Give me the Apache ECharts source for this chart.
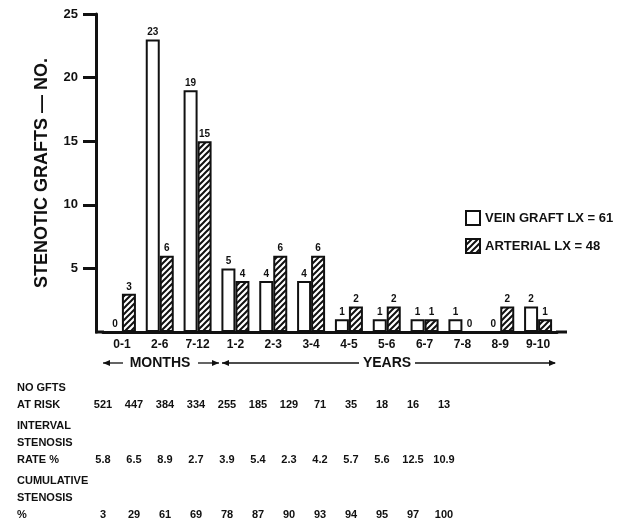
<!DOCTYPE html>
<html>
<head>
<meta charset="utf-8">
<script src="https://cdn.jsdelivr.net/npm/echarts@6/dist/echarts.min.js"></script>
<style>
  html, body { margin: 0; padding: 0; background: #fff; }
  #chart { width: 634px; height: 525px; }
</style>
</head>
<body>
<div id="chart"></div>
<script>
// interval categories (months then years)
const categories = ["0-1", "2-6", "7-12", "1-2", "2-3", "3-4", "4-5", "5-6", "6-7", "7-8", "8-9", "9-10"];
const veinGraft = [0, 23, 19, 5, 4, 4, 1, 1, 1, 1, 0, 2];
const arterial = [3, 6, 15, 4, 6, 6, 2, 2, 1, 0, 2, 1];
// table under the chart
const atRisk = ["521", "447", "384", "334", "255", "185", "129", "71", "35", "18", "16", "13"];
const intervalRate = ["5.8", "6.5", "8.9", "2.7", "3.9", "5.4", "2.3", "4.2", "5.7", "5.6", "12.5", "10.9"];
const cumulative = ["3", "29", "61", "69", "78", "87", "90", "93", "94", "95", "97", "100"];

const ink = "#111";
const FONT = "Liberation Sans, Arial, sans-serif";

// hatch pattern for arterial bars
function hatch() {
  const c = document.createElement("canvas");
  c.width = 6;
  c.height = 6;
  const g = c.getContext("2d");
  g.fillStyle = "#fff";
  g.fillRect(0, 0, 6, 6);
  g.strokeStyle = ink;
  g.lineWidth = 2;
  g.beginPath();
  g.moveTo(-1, 7); g.lineTo(7, -1);
  g.moveTo(-1, 1); g.lineTo(1, -1);
  g.moveTo(5, 7); g.lineTo(7, 5);
  g.stroke();
  return { image: c, repeat: "repeat" };
}

const chart = echarts.init(document.getElementById("chart"));

// table text
const tableEls = [];
function rowLabel(lines, yLast) {
  lines.forEach((t, i) => {
    tableEls.push({
      type: "text", x: 17, y: yLast - (lines.length - 1 - i) * 17,
      style: { text: t, fill: ink, font: "bold 11px " + FONT, verticalAlign: "middle" }
    });
  });
}
function rowValues(vals, y) {
  vals.forEach((v, i) => {
    tableEls.push({
      type: "text", x: 103 + i * 31, y: y,
      style: { text: v, fill: ink, font: "bold 11px " + FONT, align: "center", verticalAlign: "middle" }
    });
  });
}
rowLabel(["NO GFTS", "AT RISK"], 405);
rowValues(atRisk, 405);
rowLabel(["INTERVAL", "STENOSIS", "RATE %"], 460);
rowValues(intervalRate, 460);
rowLabel(["CUMULATIVE", "STENOSIS", "%"], 515);
rowValues(cumulative, 515);

// months / years arrows
const ay = 363;
function arrowHead(x, dir) {
  return {
    type: "polygon",
    shape: { points: [[x, ay], [x - dir * 7, ay - 3], [x - dir * 7, ay + 3]] },
    style: { fill: ink }
  };
}
function hLine(x1, x2, y, w) {
  return { type: "line", shape: { x1: x1, y1: y, x2: x2, y2: y }, style: { stroke: ink, lineWidth: w } };
}
const arrowEls = [
  arrowHead(103, -1), hLine(103, 123, ay, 1.3),
  { type: "text", x: 160, y: ay, style: { text: "MONTHS", fill: ink, font: "bold 14px " + FONT, align: "center", verticalAlign: "middle" } },
  hLine(198, 219, ay, 1.3), arrowHead(219, 1),
  arrowHead(222, -1), hLine(222, 359, ay, 1.3),
  { type: "text", x: 387, y: ay, style: { text: "YEARS", fill: ink, font: "bold 14px " + FONT, align: "center", verticalAlign: "middle" } },
  hLine(415, 555, ay, 1.3), arrowHead(556, 1),
  // baseline continues to the y axis and a little past the last bar
  hLine(95, 104, 332, 3), hLine(556, 567, 332, 3)
];

const labelStyle = { show: true, position: "top", distance: 2, color: ink, fontSize: 10, fontWeight: "bold", fontFamily: FONT };

chart.setOption({
  animation: false,
  textStyle: { fontFamily: FONT },
  grid: { left: 103, top: 14, width: 454, height: 318 },
  legend: {
    orient: "vertical",
    left: 460,
    top: 205,
    icon: "rect",
    itemWidth: 14,
    itemHeight: 14,
    itemGap: 12,
    textStyle: { color: ink, fontSize: 13, fontWeight: "bold", fontFamily: FONT },
    data: ["VEIN GRAFT LX = 61", "ARTERIAL LX = 48"]
  },
  xAxis: {
    type: "category",
    data: categories,
    axisLine: { lineStyle: { color: ink, width: 3 } },
    axisTick: { show: false },
    axisLabel: { color: ink, fontSize: 12, fontWeight: "bold", margin: 7, interval: 0 }
  },
  yAxis: {
    type: "value",
    min: 0,
    max: 25,
    interval: 5,
    offset: 7,
    name: "STENOTIC GRAFTS — NO.",
    nameLocation: "middle",
    nameGap: 45,
    nameTextStyle: { color: ink, fontSize: 18, fontWeight: "bold" },
    axisLine: { show: true, lineStyle: { color: ink, width: 3 } },
    axisTick: { show: true, length: 13, lineStyle: { color: ink, width: 3 } },
    axisLabel: { color: ink, fontSize: 13, fontWeight: "bold", margin: 18, showMinLabel: false },
    splitLine: { show: false }
  },
  series: [
    {
      name: "VEIN GRAFT LX = 61",
      type: "bar",
      data: veinGraft,
      barWidth: 14,
      barGap: "0%",
      itemStyle: { color: "#fff", borderColor: ink, borderWidth: 2 },
      label: labelStyle
    },
    {
      name: "ARTERIAL LX = 48",
      type: "bar",
      data: arterial,
      barWidth: 14,
      itemStyle: { color: hatch(), borderColor: ink, borderWidth: 2 },
      label: labelStyle
    }
  ],
  graphic: tableEls.concat(arrowEls)
});
</script>
</body>
</html>
